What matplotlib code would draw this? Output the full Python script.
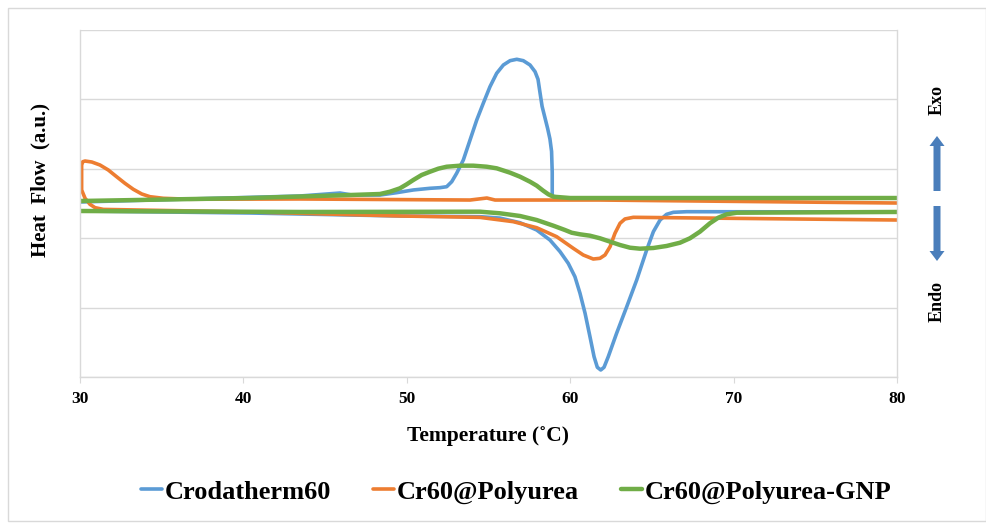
import matplotlib
matplotlib.use("Agg")
import matplotlib.pyplot as plt
from matplotlib.patches import FancyArrow, Rectangle

# ---------------- data ----------------
# Crodatherm60
cro_heat_T = [30.0, 40.4, 49.6, 54.48, 55.70, 56.93, 57.95, 58.76, 59.38, 59.88, 60.29, 60.60,
              60.91, 61.21, 61.46, 61.66, 61.87, 62.07, 62.33, 62.84, 63.46, 64.07, 64.68,
              65.09, 65.50, 65.90, 66.31, 67.13, 80.0]
cro_heat_q = [2.392, 2.363, 2.320, 2.310, 2.290, 2.223, 2.118, 1.974, 1.806, 1.638, 1.445, 1.206,
              0.918, 0.581, 0.293, 0.140, 0.101, 0.140, 0.293, 0.630, 1.013, 1.398, 1.830,
              2.094, 2.262, 2.344, 2.373, 2.382, 2.378]
cro_cool_T = [30.0, 43.46, 45.91, 46.65, 48.36, 49.38, 50.40, 51.42, 52.03, 52.44, 52.75, 53.05,
              53.46, 53.87, 54.28, 54.68, 55.09, 55.50, 55.91, 56.32, 56.73, 57.13, 57.54, 57.85,
              58.03, 58.15, 58.28, 58.45, 58.62, 58.76, 58.86, 58.90, 58.90, 59.4, 80.0]
cro_cool_q = [2.522, 2.608, 2.651, 2.622, 2.622, 2.656, 2.695, 2.719, 2.728, 2.742, 2.814, 2.935,
              3.127, 3.415, 3.703, 3.944, 4.183, 4.376, 4.496, 4.558, 4.578, 4.558, 4.496, 4.399,
              4.290, 4.100, 3.900, 3.740, 3.580, 3.430, 3.250, 2.950, 2.608, 2.579, 2.579]

# Cr60@Polyurea (cooling branch ends at 30 C, heating branch starts there)
pu_cool_T = [80.0, 61.8, 55.4, 54.9, 53.87, 43.46, 36.73, 35.10, 34.28, 33.78, 33.26, 32.75,
             32.24, 31.73, 31.22, 30.72, 30.31, 30.17]
pu_cool_q = [2.507, 2.550, 2.550, 2.579, 2.550, 2.565, 2.561, 2.575, 2.598, 2.637, 2.705, 2.791,
             2.886, 2.983, 3.055, 3.098, 3.112, 3.102]
pu_heat_T = [30.10, 30.10, 30.31, 30.61, 30.92, 31.43, 40.4, 49.6, 54.48, 56.52, 57.95, 59.17,
             60.19, 60.80, 61.41, 61.82, 62.13, 62.44, 62.74, 63.05, 63.35, 63.86, 67.94, 80.0]
pu_heat_q = [3.055, 2.695, 2.575, 2.488, 2.440, 2.415, 2.378, 2.320, 2.300, 2.238, 2.151, 2.022,
             1.854, 1.758, 1.700, 1.710, 1.758, 1.878, 2.071, 2.215, 2.277, 2.301, 2.291, 2.262]

# Cr60@Polyurea-GNP
gnp_cool_T = [30.0, 40.4, 46.5, 48.36, 48.97, 49.58, 49.99, 50.40, 50.91, 51.42, 51.93, 52.44,
              53.26, 54.07, 54.89, 55.50, 56.32, 56.93, 57.54, 57.95, 58.35, 58.66, 58.97,
              60.0, 80.0]
gnp_cool_q = [2.536, 2.579, 2.622, 2.637, 2.670, 2.719, 2.776, 2.839, 2.911, 2.958, 3.002, 3.030,
              3.045, 3.045, 3.030, 3.007, 2.944, 2.886, 2.814, 2.757, 2.684, 2.633, 2.598,
              2.579, 2.579]
gnp_heat_T = [30.0, 43.46, 54.48, 55.70, 56.93, 57.95, 58.97, 59.68, 60.09, 60.60, 61.21, 61.82,
              62.44, 63.05, 63.66, 64.27, 65.09, 65.90, 66.72, 67.33, 67.94, 68.55, 69.06,
              69.57, 70.19, 80.0]
gnp_heat_q = [2.392, 2.378, 2.382, 2.359, 2.320, 2.262, 2.180, 2.118, 2.079, 2.056, 2.036, 1.999,
              1.950, 1.902, 1.863, 1.849, 1.859, 1.888, 1.935, 1.999, 2.094, 2.215, 2.295,
              2.344, 2.367, 2.378]

labels = ["Crodatherm60", "Cr60@Polyurea", "Cr60@Polyurea-GNP"]
colors = ["#5b9bd5", "#ed7d31", "#70ad47"]
x_ticks = [30, 40, 50, 60, 70, 80]

# ---------------- figure ----------------
serif = ["Liberation Serif", "DejaVu Serif"]
fig = plt.figure(figsize=(9.87, 5.27), dpi=100)
fig.patch.set_facecolor("white")

# outer light frame
fig.add_artist(Rectangle((8 / 987, 1 - 521 / 527), 978 / 987, 513 / 527,
                         transform=fig.transFigure, fill=False, edgecolor="#d9d9d9", lw=1.0))

ax = fig.add_axes([80 / 987, 1 - 377 / 527, 817 / 987, 347 / 527])
lw = 2.6
kw = dict(solid_joinstyle="round", solid_capstyle="round")
l1, = ax.plot(cro_heat_T, cro_heat_q, color=colors[0], lw=lw, label=labels[0], **kw)
ax.plot(cro_cool_T, cro_cool_q, color=colors[0], lw=lw, **kw)
l2, = ax.plot(pu_cool_T + pu_heat_T, pu_cool_q + pu_heat_q, color=colors[1], lw=lw,
              label=labels[1], **kw)
l3, = ax.plot(gnp_heat_T, gnp_heat_q, color=colors[2], lw=lw + 0.6, label=labels[2], **kw)
ax.plot(gnp_cool_T, gnp_cool_q, color=colors[2], lw=lw + 0.6, **kw)

ax.set_xlim(30, 80)
ax.set_ylim(0, 5)
ax.set_xticks(x_ticks)
ax.set_yticks([0, 1, 2, 3, 4, 5])
ax.set_yticklabels([])
ax.tick_params(axis="y", length=0)
ax.tick_params(axis="x", length=4, color="#d9d9d9", pad=6)
for t in ax.get_xticklabels():
    t.set_fontfamily(serif)
    t.set_fontweight("bold")
    t.set_fontsize(12.5)
ax.grid(axis="y", color="#d9d9d9", lw=1.0)
ax.set_axisbelow(True)
for s in ax.spines.values():
    s.set_color("#d9d9d9")
    s.set_linewidth(1.0)
ax.spines["top"].set_visible(False)

ax.set_xlabel("Temperature (˚C)", family=serif, fontweight="bold", fontsize=15.5, labelpad=14)
fig.text(40 / 987, 1 - 180 / 527, "Heat  Flow  (a.u.)", rotation=90, family=serif,
         fontweight="bold", fontsize=15, ha="center", va="center")

# Exo / Endo indicators
fig.text(937 / 987, 1 - 100 / 527, "Exo", rotation=90, family=serif, fontweight="bold",
         fontsize=13, ha="center", va="center")
fig.text(937 / 987, 1 - 302 / 527, "Endo", rotation=90, family=serif, fontweight="bold",
         fontsize=13, ha="center", va="center")
arrow_col = "#4a7ebb"
fig.add_artist(FancyArrow(937 / 987, 1 - 191 / 527, 0, 55 / 527, width=7 / 987,
                          head_width=15 / 987, head_length=10 / 527, length_includes_head=True,
                          transform=fig.transFigure, color=arrow_col, lw=0))
fig.add_artist(FancyArrow(937 / 987, 1 - 206 / 527, 0, -55 / 527, width=7 / 987,
                          head_width=15 / 987, head_length=10 / 527, length_includes_head=True,
                          transform=fig.transFigure, color=arrow_col, lw=0))

fig.legend(handles=[l1, l2, l3], labels=labels, loc="center", bbox_to_anchor=(516 / 987, 1 - 492 / 527),
           ncol=3, frameon=False, handlelength=0.8, handletextpad=0.1, columnspacing=1.6,
           prop={"family": serif, "weight": "bold", "size": 19})

fig.savefig("out.png", dpi=100, facecolor="white")
